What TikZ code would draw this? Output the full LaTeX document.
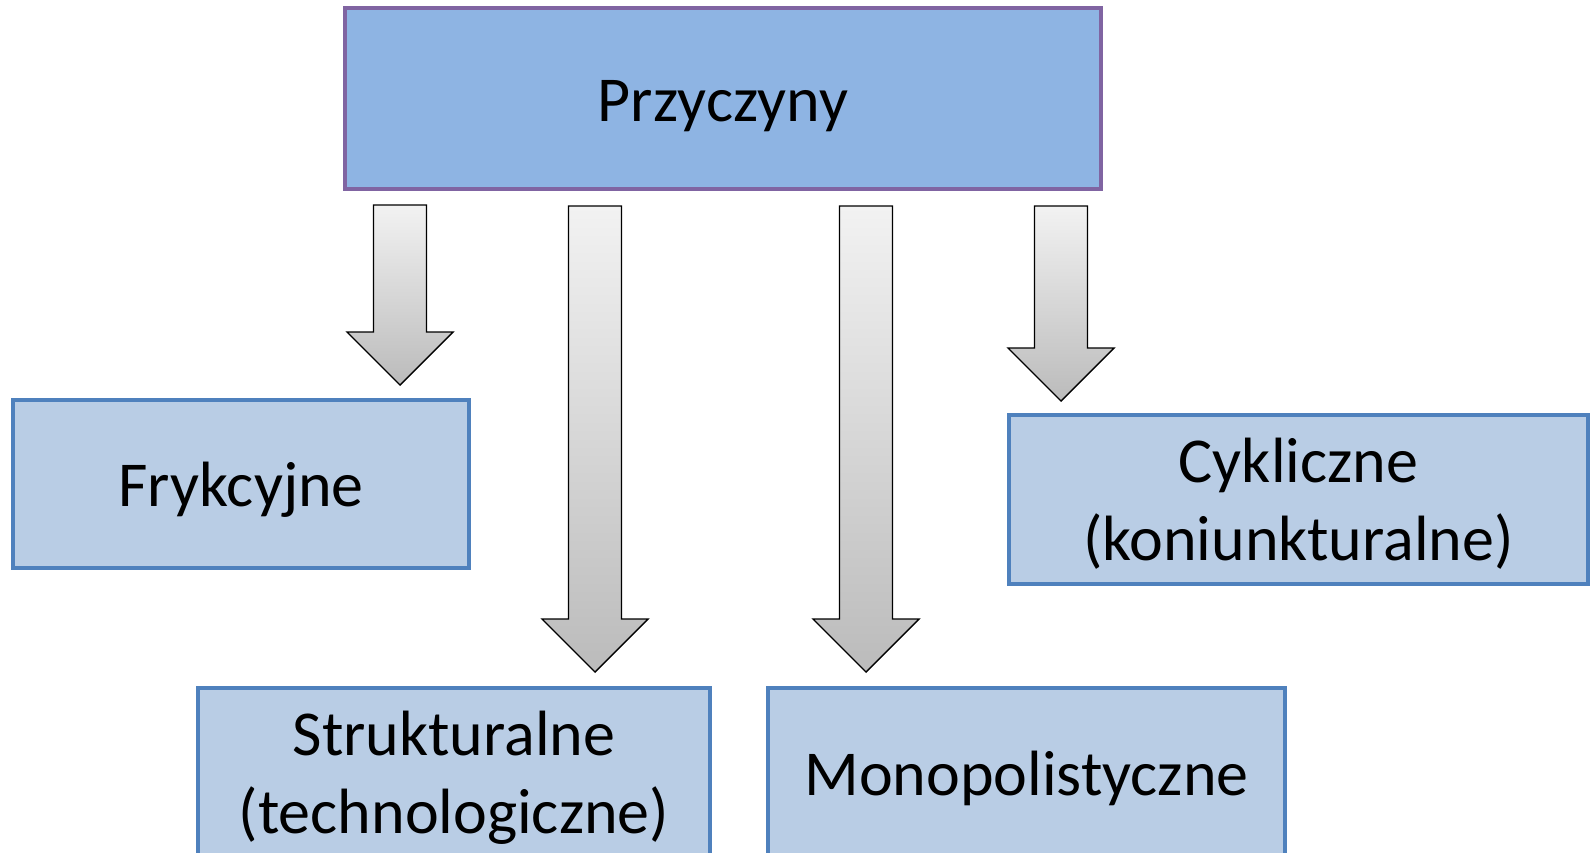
\documentclass[tikz,border=0pt]{standalone}
\usepackage{fontspec}
\setmainfont{Carlito}
\usetikzlibrary{calc}
\definecolor{topfill}{HTML}{8EB4E3}
\definecolor{topline}{HTML}{8064A2}
\definecolor{boxfill}{HTML}{B9CDE5}
\definecolor{boxline}{HTML}{4F81BD}
\definecolor{arrowtop}{HTML}{F2F2F2}
\definecolor{arrowbot}{HTML}{BBBBBB}
% block arrow pointing down from coordinate #1 to its tip at coordinate #2
\newcommand{\downblock}[2]{%
  \fill[black, opacity=0.22, xshift=2.5pt, yshift=-2.5pt]
    let \p1=(#1), \p2=(#2) in
    (\x1-26.5pt,\y1) -- (\x1+26.5pt,\y1) -- (\x1+26.5pt,\y2+53pt) -- (\x1+53pt,\y2+53pt)
    -- (\x2,\y2) -- (\x1-53pt,\y2+53pt) -- (\x1-26.5pt,\y2+53pt) -- cycle;
  \path[blockarrow]
    let \p1=(#1), \p2=(#2) in
    (\x1-26.5pt,\y1) -- (\x1+26.5pt,\y1) -- (\x1+26.5pt,\y2+53pt) -- (\x1+53pt,\y2+53pt)
    -- (\x2,\y2) -- (\x1-53pt,\y2+53pt) -- (\x1-26.5pt,\y2+53pt) -- cycle;
}
\begin{document}
\begin{tikzpicture}[x=1pt, y=-1pt,
  label/.style={rectangle, inner sep=0pt, align=center,
    font=\fontsize{64}{78}\selectfont},
  oneline/.style={text height=45pt, text depth=0pt},
  twolines/.style={text height=121pt, text depth=0pt},
  rootbox/.style={label, draw=topline, fill=topfill, line width=3.5pt},
  kindbox/.style={label, draw=boxline, fill=boxfill, line width=3.5pt},
  blockarrow/.style={draw=black, line width=1.4pt, line join=miter,
    top color=arrowtop, bottom color=arrowbot}]
\path[use as bounding box] (0,0) rectangle (1590,852);
\clip (0,0) rectangle (1590,852);
\fill[white] (0,0) rectangle (1590,852);

% main cause box
\node[rootbox, oneline, minimum width=756pt, minimum height=181pt] (root) at (723,98.5) {Przyczyny};

% kinds of causes
\node[kindbox, oneline, minimum width=456pt, minimum height=168pt] (fryk) at (241,484) {Frykcyjne};
\node[kindbox, twolines, minimum width=579pt, minimum height=169pt] (cykl) at (1298.5,499.5) {Cykliczne\\(koniunkturalne)};
\node[kindbox, twolines, minimum width=512pt, minimum height=169pt] (strukt) at (454,772.5) {Strukturalne\\(technologiczne)};
\node[kindbox, oneline, minimum width=517pt, minimum height=169pt] (mono) at (1026.5,772.5) {Monopolistyczne};

% arrow ends
\coordinate (s1) at (400,205);  \coordinate (t1) at (400,385);
\coordinate (s2) at (595,206);  \coordinate (t2) at (595,672);
\coordinate (s3) at (866,206);  \coordinate (t3) at (866,672);
\coordinate (s4) at (1061,206); \coordinate (t4) at (1061,401);

\downblock{s1}{t1}
\downblock{s2}{t2}
\downblock{s3}{t3}
\downblock{s4}{t4}
\end{tikzpicture}
\end{document}
